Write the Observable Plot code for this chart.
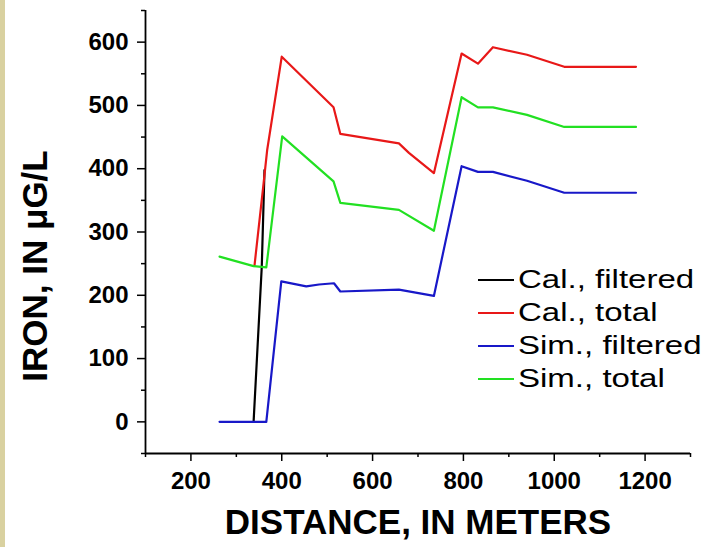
<!DOCTYPE html>
<html><head><meta charset="utf-8">
<script src="https://cdn.jsdelivr.net/npm/d3@7"></script>
<script src="https://cdn.jsdelivr.net/npm/@observablehq/plot@0.6"></script>
<style>
body{margin:0;background:#fff;}
#wrap{position:relative;width:710px;height:547px;overflow:hidden;background:#fff;}
#strip{position:absolute;left:0;top:0;width:5px;height:547px;background:#d9d1a0;}
#legend{position:absolute;left:478px;top:263px;font-family:"Liberation Sans",Arial,sans-serif;font-size:26px;color:#000;}
.row{display:flex;align-items:center;height:33px;white-space:nowrap;}
.sw{width:36px;height:2px;margin-right:4px;flex:none;}
.lt{display:inline-block;transform:scaleX(1.27);transform-origin:0 50%;}
</style></head><body><div id="wrap"><div id="chart"></div><div id="strip"></div><div id="legend"></div></div>
<script>
const seriesNames = ["Cal., filtered", "Cal., total", "Sim., filtered", "Sim., total"];
const seriesColors = ["#000000", "#e81818", "#1818c8", "#22e022"];

const calFilteredX = [338, 356, 362];
const calFilteredY = [0, 245, 398];

const calTotalX = [340, 360, 368, 400, 514, 529, 658, 680, 735, 796, 832, 865, 940, 1022, 1180];
const calTotalY = [247, 377, 430, 577, 497, 455, 440, 425, 393, 582, 566, 592, 580, 561, 561];

const simFilteredX = [263, 366, 399, 454, 482, 515, 529, 658, 735, 796, 832, 865, 940, 1022, 1180];
const simFilteredY = [0, 0, 222, 214, 217, 219, 206, 209, 199, 404, 395, 395, 381, 362, 362];

const simTotalX = [263, 338, 366, 401, 514, 529, 658, 735, 796, 832, 865, 940, 1022, 1180];
const simTotalY = [261, 246, 244, 451, 380, 346, 335, 302, 513, 497, 497, 485, 466, 466];

const xTicks = [200, 400, 600, 800, 1000, 1200];
const xMinorTicks = [100, 300, 500, 700, 900, 1100, 1300];
const yTicks = [0, 100, 200, 300, 400, 500, 600];
const yMinorTicks = [-50, 50, 150, 250, 350, 450, 550, 650];

const xLabel = "DISTANCE, IN METERS";
const yLabel = "IRON, IN \u03BCG/L";

function toRows(xs, ys) { return xs.map((x, i) => ({x, y: ys[i]})); }
const series = [
  toRows(calFilteredX, calFilteredY),
  toRows(calTotalX, calTotalY),
  toRows(simFilteredX, simFilteredY),
  toRows(simTotalX, simTotalY)
];

const font = "Liberation Sans, Arial, sans-serif";
const chart = Plot.plot({
  width: 710, height: 547,
  marginLeft: 145, marginRight: 20, marginTop: 10, marginBottom: 94,
  x: {domain: [100, 1300]},
  y: {domain: [-50, 650]},
  style: {fontFamily: font, color: "#000", background: "transparent", overflow: "visible"},
  marks: [
    Plot.axisX(xTicks, {tickSize: 8, tickPadding: 10, fontSize: 24, fontWeight: "bold", label: null, strokeWidth: 1.5, tickFormat: d => String(d)}),
    Plot.axisX(xMinorTicks, {tickSize: 4, label: null, strokeWidth: 1.5, tickFormat: () => ""}),
    Plot.axisY(yTicks, {tickSize: 8, tickPadding: 9, fontSize: 24, fontWeight: "bold", label: null, strokeWidth: 1.5, tickFormat: d => String(d)}),
    Plot.axisY(yMinorTicks, {tickSize: 4, label: null, strokeWidth: 1.5, tickFormat: () => ""}),
    ...series.map((rows, i) => Plot.line(rows, {x: "x", y: "y", stroke: seriesColors[i], strokeWidth: 2.2})),
    Plot.ruleX([100], {stroke: "#000", strokeWidth: 1.8}),
    Plot.ruleY([-50], {stroke: "#000", strokeWidth: 1.8}),
    Plot.text([xLabel], {frameAnchor: "bottom", dy: 80, fontSize: 35, fontWeight: "bold", fill: "#000"}),
    Plot.text([yLabel], {frameAnchor: "left", textAnchor: "middle", dx: -110, dy: 34, rotate: -90, fontSize: 35, fontWeight: "bold", fill: "#000"})
  ]
});
document.getElementById("chart").appendChild(chart);

const legend = document.getElementById("legend");
seriesNames.forEach((name, i) => {
  const row = document.createElement("div");
  row.className = "row";
  const sw = document.createElement("div");
  sw.className = "sw";
  sw.style.background = seriesColors[i];
  const t = document.createElement("span");
  t.className = "lt";
  t.textContent = name;
  row.appendChild(sw); row.appendChild(t);
  legend.appendChild(row);
});
</script>
</body></html>
